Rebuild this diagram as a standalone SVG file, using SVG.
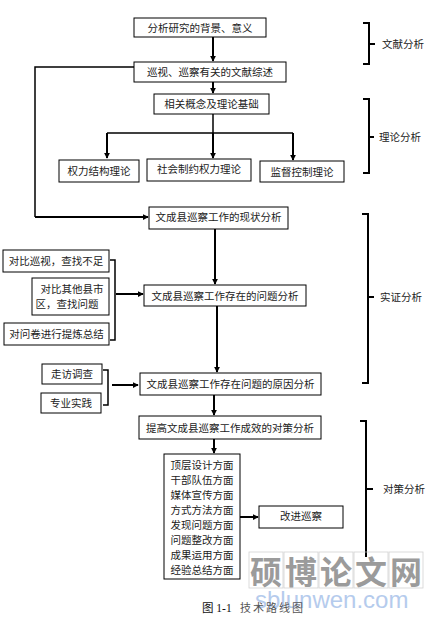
<svg xmlns="http://www.w3.org/2000/svg" width="438" height="622" viewBox="0 0 438 622">
<defs>
<marker id="ah" viewBox="0 0 8 8" refX="7" refY="4" markerWidth="6" markerHeight="6" markerUnits="userSpaceOnUse" orient="auto">
<path d="M0,0 L8,4 L0,8 z" fill="#000"/>
</marker>
<style>
.box{fill:#fff;stroke:#000;stroke-width:1}
.t{font-family:"Liberation Sans","Noto Sans CJK SC",sans-serif;font-size:10.5px;fill:#222;text-anchor:middle;dominant-baseline:central}
.lbl{font-family:"Liberation Sans","Noto Sans CJK SC",sans-serif;font-size:10.5px;fill:#222;dominant-baseline:central}
.ln{fill:none;stroke:#000;stroke-width:2}
.ln1{fill:none;stroke:#000;stroke-width:1.5}
.wm{font-family:"Noto Sans CJK SC",sans-serif;font-size:32px;font-weight:bold;fill:#8a8a8a;text-anchor:middle;dominant-baseline:central}
</style>
</defs>
<rect width="438" height="622" fill="#fff"/>

<g id="connectors">
<path class="ln" d="M213,37 V61" marker-end="url(#ah)"/>
<path class="ln" d="M213,82 V93" marker-end="url(#ah)"/>
<path class="ln1" d="M213,114 V133"/>
<path class="ln1" d="M107,133 H293"/>
<path class="ln" d="M107,133 V158" marker-end="url(#ah)"/>
<path class="ln" d="M213,133 V158" marker-end="url(#ah)"/>
<path class="ln" d="M293,133 V160" marker-end="url(#ah)"/>
<path class="ln1" d="M134,67 H35 V217"/>
<path class="ln" d="M35,217 H148" marker-end="url(#ah)"/>
<path class="ln" d="M215,229 V284" marker-end="url(#ah)"/>
<path class="ln" d="M217,306 V372" marker-end="url(#ah)"/>
<path class="ln" d="M214,395 V415" marker-end="url(#ah)"/>
<path class="ln" d="M214,439 V453" marker-end="url(#ah)"/>
<path class="ln" d="M240,517 H258" marker-end="url(#ah)"/>
<path class="ln1" d="M110,260 H115 V340 H110"/>
<path class="ln" stroke-width="3" d="M116,294 H143" marker-end="url(#ah)"/>
<path class="ln1" d="M103,370 H108 V405 H103"/>
<path class="ln" d="M112,385 H138" marker-end="url(#ah)"/>
</g>

<g id="n1"><rect class="box" x="134" y="18" width="132" height="19"/><text class="t" x="200" y="27.5">分析研究的背景、意义</text></g>
<g id="n2"><rect class="box" x="134" y="62" width="152" height="20"/><text class="t" x="210" y="72">巡视、巡察有关的文献综述</text></g>
<g id="n3"><rect class="box" x="154" y="94" width="115" height="20"/><text class="t" x="211.5" y="104">相关概念及理论基础</text></g>
<g id="n4"><rect class="box" x="59" y="160" width="80" height="22"/><text class="t" x="99" y="171">权力结构理论</text></g>
<g id="n5"><rect class="box" x="147" y="159" width="104" height="22"/><text class="t" x="199" y="169">社会制约权力理论</text></g>
<g id="n6"><rect class="box" x="260" y="161" width="84" height="21"/><text class="t" x="302" y="172">监督控制理论</text></g>
<g id="n7"><rect class="box" x="149" y="207" width="139" height="22"/><text class="t" x="218.5" y="217">文成县巡察工作的现状分析</text></g>
<g id="n8"><rect class="box" x="144" y="285" width="162" height="21"/><text class="t" x="225" y="295.5">文成县巡察工作存在的问题分析</text></g>
<g id="n9"><rect class="box" x="3" y="250" width="106" height="22"/><text class="t" x="56" y="261">对比巡视，查找不足</text></g>
<g id="n10"><rect class="box" x="32" y="278" width="77" height="37"/><text class="t" x="72" y="289">对比其他县市</text><text class="t" x="67" y="304">区，查找问题</text></g>
<g id="n11"><rect class="box" x="4" y="323" width="105" height="22"/><text class="t" x="56.5" y="334">对问卷进行提炼总结</text></g>
<g id="n12"><rect class="box" x="140" y="373" width="181" height="22"/><text class="t" x="230.5" y="384">文成县巡察工作存在问题的原因分析</text></g>
<g id="n13"><rect class="box" x="42" y="364" width="60" height="20"/><text class="t" x="72" y="374">走访调查</text></g>
<g id="n14"><rect class="box" x="41" y="393" width="60" height="20"/><text class="t" x="71" y="403">专业实践</text></g>
<g id="n15"><rect class="box" x="139" y="416" width="182" height="23"/><text class="t" x="230" y="427.5">提高文成县巡察工作成效的对策分析</text></g>
<g id="n16"><rect class="box" x="164" y="454" width="76" height="125"/>
<text class="t" x="202" y="465">顶层设计方面</text>
<text class="t" x="202" y="480">干部队伍方面</text>
<text class="t" x="202" y="495">媒体宣传方面</text>
<text class="t" x="202" y="510">方式方法方面</text>
<text class="t" x="202" y="525">发现问题方面</text>
<text class="t" x="202" y="540">问题整改方面</text>
<text class="t" x="202" y="555">成果运用方面</text>
<text class="t" x="202" y="570">经验总结方面</text>
</g>
<g id="n17"><rect class="box" x="259" y="506" width="84" height="22"/><text class="t" x="301" y="516">改进巡察</text></g>

<g id="b1"><path class="ln" d="M363,23 H369 V64 H363 M369,44 H375"/><text class="lbl" x="382" y="44">文献分析</text></g>
<g id="b2"><path class="ln" d="M363,99 H369 V173 H363 M369,137 H374"/><text class="lbl" x="379" y="137">理论分析</text></g>
<g id="b3"><path class="ln" d="M362,214 H368 V383 H362 M368,297 H374"/><text class="lbl" x="380" y="297">实证分析</text></g>
<g id="b4"><path class="ln" d="M360,421 H366 V557 M366,489 H373"/><text class="lbl" x="383" y="489">对策分析</text></g>

<g id="watermark" opacity="0.85">
<g fill="none" stroke="#ccc" stroke-width="0.8">
<rect x="249" y="552" width="34" height="36"/><rect x="284" y="552" width="34" height="36"/><rect x="319" y="552" width="34" height="36"/><rect x="354" y="552" width="34" height="36"/><rect x="389" y="552" width="34" height="36"/>
</g>
<text class="wm" x="266" y="570">硕</text><text class="wm" x="301" y="570">博</text><text class="wm" x="336" y="570">论</text><text class="wm" x="371" y="570">文</text><text class="wm" x="406" y="570">网</text>
<text x="255" y="608" font-family="Liberation Sans,sans-serif" font-size="24" fill="#a9c3ea">sblunwen.com</text>
</g>

<g id="caption">
<text x="202" y="612" font-family="Liberation Serif,Noto Sans CJK SC,serif" font-size="11.5" fill="#111">图 1-1</text>
<text x="240" y="612" font-family="Liberation Serif,Noto Sans CJK SC,serif" font-size="11" fill="#555" letter-spacing="2">技术路线图</text>
</g>
</svg>
